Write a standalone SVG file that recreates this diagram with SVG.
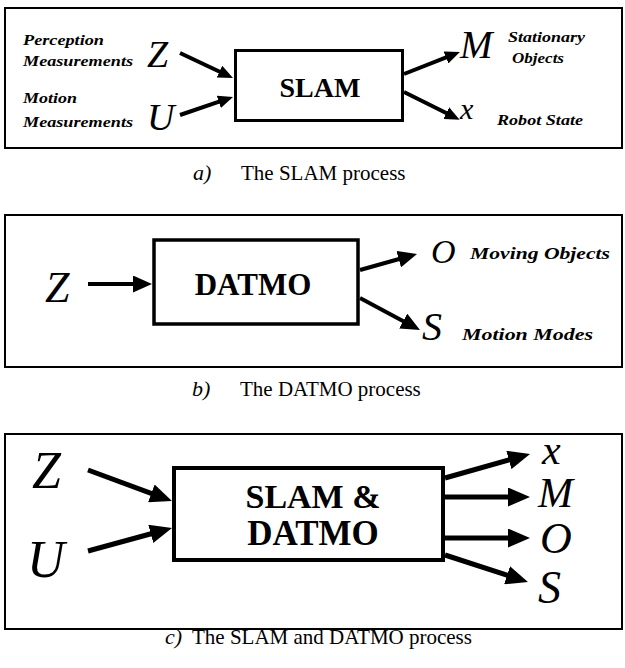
<svg xmlns="http://www.w3.org/2000/svg" width="625" height="668" viewBox="0 0 625 668">
<style>
.frame{fill:none;stroke:#000;stroke-width:2}
.box{fill:#fff;stroke:#000}
.ln{stroke:#000;fill:none;stroke-linecap:butt}
.sym{font-family:"Liberation Serif","Times New Roman",serif;font-style:italic;fill:#000}
.lbl{font-family:"Liberation Serif","Times New Roman",serif;font-style:italic;font-weight:bold;fill:#000}
.btxt{font-family:"Liberation Serif","Times New Roman",serif;font-weight:bold;fill:#000;text-anchor:middle}
.cap{font-family:"Liberation Serif","Times New Roman",serif;fill:#000;font-size:21px}
.capi{font-family:"Liberation Serif","Times New Roman",serif;font-style:italic;fill:#000;font-size:22px}
</style>
<defs>
<marker id="hA" markerUnits="userSpaceOnUse" markerWidth="15" markerHeight="13" refX="5" refY="6.5" orient="auto"><path d="M0,0 L15,6.5 L0,13 z" fill="#000"/></marker>
<marker id="hB" markerUnits="userSpaceOnUse" markerWidth="19" markerHeight="17" refX="6" refY="8.5" orient="auto"><path d="M0,0 L19,8.5 L0,17 z" fill="#000"/></marker>
<marker id="hC" markerUnits="userSpaceOnUse" markerWidth="22" markerHeight="19" refX="7" refY="9.5" orient="auto"><path d="M0,0 L22,9.5 L0,19 z" fill="#000"/></marker>
</defs>

<!-- Panel a -->
<rect class="frame" x="5" y="8" width="617" height="140"/>
<g id="a-inputs">
<text class="lbl" x="23" y="45" font-size="15" textLength="81" lengthAdjust="spacingAndGlyphs">Perception</text>
<text class="lbl" x="23" y="66" font-size="15" textLength="110" lengthAdjust="spacingAndGlyphs">Measurements</text>
<text class="lbl" x="23" y="103" font-size="15" textLength="54" lengthAdjust="spacingAndGlyphs">Motion</text>
<text class="lbl" x="23" y="127" font-size="15" textLength="110" lengthAdjust="spacingAndGlyphs">Measurements</text>
<text class="sym" x="147" y="67" font-size="38">Z</text>
<text class="sym" x="147" y="130" font-size="38">U</text>
</g>
<g id="a-slam">
<rect class="box" x="235.5" y="50.5" width="167" height="70" stroke-width="3"/>
<text class="btxt" x="320" y="97" font-size="28">SLAM</text>
</g>
<g id="a-outputs">
<text class="sym" x="460" y="58" font-size="39">M</text>
<text class="sym" x="460" y="119" font-size="30">x</text>
<text class="lbl" x="508" y="42" font-size="15" textLength="77" lengthAdjust="spacingAndGlyphs">Stationary</text>
<text class="lbl" x="512" y="63" font-size="15" textLength="52" lengthAdjust="spacingAndGlyphs">Objects</text>
<text class="lbl" x="497" y="125" font-size="15" textLength="86" lengthAdjust="spacingAndGlyphs">Robot State</text>
</g>
<g id="a-connectors" class="ln" stroke-width="4">
<line x1="180" y1="53" x2="223.96" y2="73.73" marker-end="url(#hA)"/>
<line x1="180" y1="115" x2="223.53" y2="100.22" marker-end="url(#hA)"/>
<line x1="404" y1="74" x2="450.6" y2="55.6" marker-end="url(#hA)"/>
<line x1="404" y1="92" x2="450.7" y2="115.3" marker-end="url(#hA)"/>
</g>
<g id="a-caption">
<text class="capi" x="193" y="180">a)</text>
<text class="cap" x="241" y="180">The SLAM process</text>
</g>

<!-- Panel b -->
<rect class="frame" x="5" y="215" width="617" height="152"/>
<g id="b-input">
<text class="sym" x="45" y="302" font-size="44">Z</text>
</g>
<g id="b-datmo">
<rect class="box" x="154" y="240" width="204" height="84" stroke-width="3.5"/>
<text class="btxt" x="253" y="295" font-size="31">DATMO</text>
</g>
<g id="b-outputs">
<text class="sym" x="431" y="263" font-size="34">O</text>
<text class="sym" x="422" y="340" font-size="40">S</text>
<text class="lbl" x="470" y="259" font-size="17" textLength="140" lengthAdjust="spacingAndGlyphs">Moving Objects</text>
<text class="lbl" x="462" y="340" font-size="17" textLength="131" lengthAdjust="spacingAndGlyphs">Motion Modes</text>
</g>
<g id="b-connectors" class="ln" stroke-width="4">
<line x1="88" y1="284" x2="139" y2="284" marker-end="url(#hB)"/>
<line x1="360" y1="270" x2="404.5" y2="257.5" marker-end="url(#hB)"/>
<line x1="360" y1="298" x2="408.5" y2="323.9" marker-end="url(#hB)"/>
</g>
<g id="b-caption">
<text class="capi" x="192" y="396">b)</text>
<text class="cap" x="240" y="396">The DATMO process</text>
</g>

<!-- Panel c -->
<rect class="frame" x="5" y="434" width="617" height="195"/>
<g id="c-inputs">
<text class="sym" x="32" y="488" font-size="52">Z</text>
<text class="sym" x="27" y="577" font-size="52">U</text>
</g>
<g id="c-slamdatmo">
<rect class="box" x="174" y="468" width="269" height="92" stroke-width="4"/>
<text class="btxt" x="313" y="508" font-size="34">SLAM &amp;</text>
<text class="btxt" x="313" y="545" font-size="35">DATMO</text>
</g>
<g id="c-outputs">
<text class="sym" x="542" y="464" font-size="42">x</text>
<text class="sym" x="538" y="507" font-size="42">M</text>
<text class="sym" x="540" y="553" font-size="44">O</text>
<text class="sym" x="538" y="603" font-size="46">S</text>
</g>
<g id="c-connectors" class="ln" stroke-width="5">
<line x1="88" y1="470" x2="157.9" y2="495.8" marker-end="url(#hC)"/>
<line x1="88" y1="551" x2="157.5" y2="532" marker-end="url(#hC)"/>
<line x1="445" y1="478" x2="515.6" y2="458.1" marker-end="url(#hC)"/>
<line x1="445" y1="497" x2="515" y2="497" marker-end="url(#hC)"/>
<line x1="445" y1="538" x2="515" y2="538" marker-end="url(#hC)"/>
<line x1="445" y1="555" x2="513.7" y2="577.4" marker-end="url(#hC)"/>
</g>
<g id="c-caption">
<text class="capi" x="165" y="644">c)</text>
<text class="cap" x="192" y="644">The SLAM and DATMO process</text>
</g>
</svg>
